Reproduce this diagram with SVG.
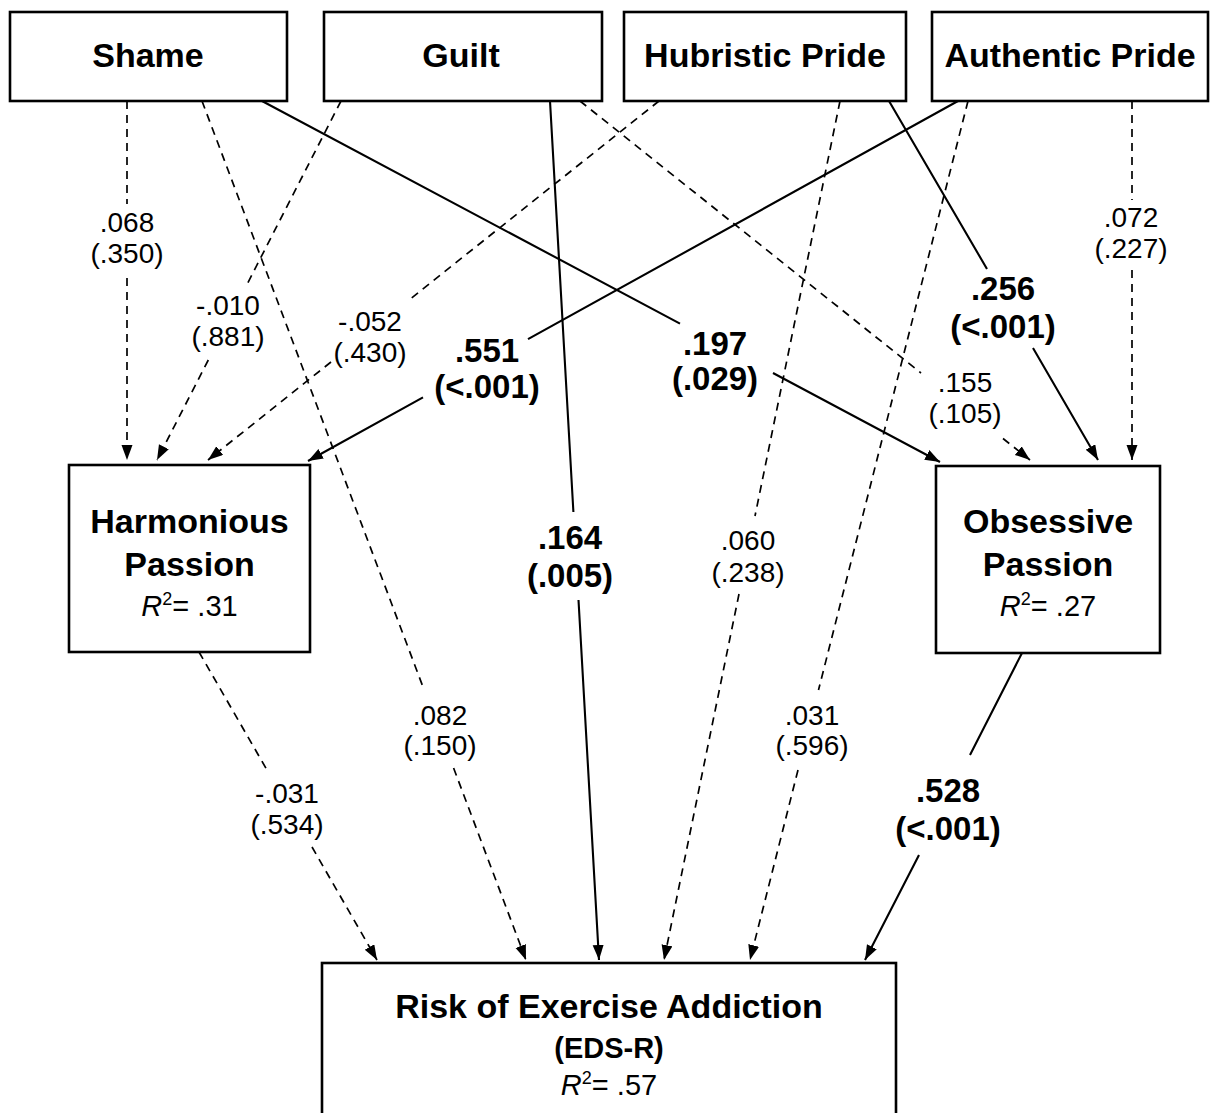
<svg xmlns="http://www.w3.org/2000/svg" width="1210" height="1113" viewBox="0 0 1210 1113">
<style>
.box{fill:#fff;stroke:#000;stroke-width:2.6}
.t{font-family:"Liberation Sans",Arial,sans-serif;fill:#000;text-anchor:middle}
.title{font-size:34px;font-weight:bold}
.sub{font-size:29px;font-weight:bold}
.r2{font-size:29px}
.lab{font-size:28px}
.blab{font-size:33px;font-weight:bold}
.solid{fill:none;stroke:#000;stroke-width:2.1}
.dash{fill:none;stroke:#000;stroke-width:1.7;stroke-dasharray:8 6}
</style>
<defs>
<marker id="ah" markerUnits="userSpaceOnUse" markerWidth="16" markerHeight="12" refX="15" refY="5.5" orient="auto">
<path d="M0,0 L15,5.5 L0,11 z" fill="#000"/>
</marker>
</defs>
<rect width="1210" height="1113" fill="#fff"/>

<g id="connectors">
<path class="dash" marker-end="url(#ah)" d="M127 101 L127 204 M127 278 L127 460"/>
<path class="dash" marker-end="url(#ah)" d="M202 101 L423.4 688 M453.6 768 L526 960"/>
<path class="solid" marker-end="url(#ah)" d="M262 101 L680 323.6 M773 373 L940 462"/>
<path class="dash" marker-end="url(#ah)" d="M341 101 L245.7 287 M208.3 360 L157 460"/>
<path class="solid" marker-end="url(#ah)" d="M550 101 L573.4 512 M578.5 600 L599 960"/>
<path class="dash" marker-end="url(#ah)" d="M580 101 L921 373 M1003 438.5 L1030 460"/>
<path class="dash" marker-end="url(#ah)" d="M659 101 L411.5 298 M331 362 L208 460"/>
<path class="dash" marker-end="url(#ah)" d="M840 101 L755 516 M739 594 L664 960"/>
<path class="solid" marker-end="url(#ah)" d="M889 101 L987 269 M1033 348 L1098 460"/>
<path class="solid" marker-end="url(#ah)" d="M958 101 L528 339.2 M423 397.3 L308 461"/>
<path class="dash" marker-end="url(#ah)" d="M968 101 L818.5 690 M798 770 L750 960"/>
<path class="dash" marker-end="url(#ah)" d="M1132 101 L1132 200 M1132 270 L1132 460"/>
<path class="dash" marker-end="url(#ah)" d="M199 652 L267 770 M312 847 L377 960"/>
<path class="solid" marker-end="url(#ah)" d="M1022 653 L970 755 M919 855 L865 960"/>
</g>

<g id="labels">
<text class="t lab" x="127" y="232">.068</text><text class="t lab" x="127" y="263">(.350)</text>
<text class="t lab" x="228" y="315">-.010</text><text class="t lab" x="228" y="346">(.881)</text>
<text class="t lab" x="370" y="331">-.052</text><text class="t lab" x="370" y="362">(.430)</text>
<text class="t blab" x="487" y="362">.551</text><text class="t blab" x="487" y="398">(&lt;.001)</text>
<text class="t blab" x="715" y="355">.197</text><text class="t blab" x="715" y="390">(.029)</text>
<text class="t blab" x="1003" y="300">.256</text><text class="t blab" x="1003" y="338">(&lt;.001)</text>
<text class="t lab" x="965" y="392">.155</text><text class="t lab" x="965" y="423">(.105)</text>
<text class="t lab" x="1131" y="227">.072</text><text class="t lab" x="1131" y="258">(.227)</text>
<text class="t blab" x="570" y="549">.164</text><text class="t blab" x="570" y="587">(.005)</text>
<text class="t lab" x="748" y="550">.060</text><text class="t lab" x="748" y="582">(.238)</text>
<text class="t lab" x="440" y="725">.082</text><text class="t lab" x="440" y="755">(.150)</text>
<text class="t lab" x="812" y="725">.031</text><text class="t lab" x="812" y="755">(.596)</text>
<text class="t lab" x="287" y="803">-.031</text><text class="t lab" x="287" y="834">(.534)</text>
<text class="t blab" x="948" y="802">.528</text><text class="t blab" x="948" y="840">(&lt;.001)</text>
</g>

<g id="shame"><rect class="box" x="10" y="12" width="277" height="89"/><text class="t title" x="148" y="67">Shame</text></g>
<g id="guilt"><rect class="box" x="324" y="12" width="278" height="89"/><text class="t title" x="461" y="67">Guilt</text></g>
<g id="hubristic"><rect class="box" x="624" y="12" width="282" height="89"/><text class="t title" x="765" y="67">Hubristic Pride</text></g>
<g id="authentic"><rect class="box" x="932" y="12" width="276" height="89"/><text class="t title" x="1070" y="67">Authentic Pride</text></g>

<g id="harmonious"><rect class="box" x="69" y="465" width="241" height="187"/>
<text class="t title" x="189.5" y="533">Harmonious</text>
<text class="t title" x="189.5" y="576">Passion</text>
<text class="t r2" x="189.5" y="616"><tspan font-style="italic">R</tspan><tspan font-size="18" dy="-11">2</tspan><tspan dy="11">= .31</tspan></text>
</g>
<g id="obsessive"><rect class="box" x="936" y="466" width="224" height="187"/>
<text class="t title" x="1048" y="533">Obsessive</text>
<text class="t title" x="1048" y="576">Passion</text>
<text class="t r2" x="1048" y="616"><tspan font-style="italic">R</tspan><tspan font-size="18" dy="-11">2</tspan><tspan dy="11">= .27</tspan></text>
</g>
<g id="risk"><rect class="box" x="322" y="963" width="574" height="170"/>
<text class="t title" x="609" y="1018">Risk of Exercise Addiction</text>
<text class="t sub" x="609" y="1058">(EDS-R)</text>
<text class="t r2" x="609" y="1095"><tspan font-style="italic">R</tspan><tspan font-size="18" dy="-11">2</tspan><tspan dy="11">= .57</tspan></text>
</g>
</svg>
